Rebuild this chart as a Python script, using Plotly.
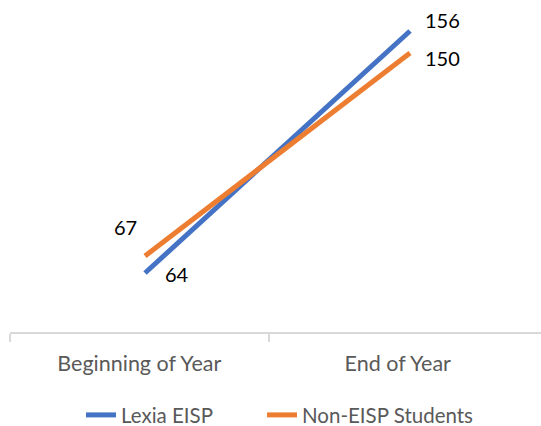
import plotly.graph_objects as go

# Reading scores at the beginning and end of the year
periods = ["Beginning of Year", "End of Year"]
lexia_eisp = [64, 156]
non_eisp = [67, 150]

BLUE = "#4472C4"
ORANGE = "#ED7D31"
GRAY_TEXT = "#595959"
AXIS_GRAY = "#D9D9D9"
FONT = "Lato, 'Liberation Sans', sans-serif"

fig = go.Figure()

fig.add_trace(go.Scatter(
    x=periods, y=lexia_eisp, name="Lexia EISP", mode="lines",
    line=dict(color=BLUE, width=5), xaxis="x", yaxis="y", legend="legend",
))
fig.add_trace(go.Scatter(
    x=periods, y=non_eisp, name="Non-EISP Students", mode="lines",
    line=dict(color=ORANGE, width=5), xaxis="x", yaxis="y2", legend="legend2",
))
# Empty trace so the category axis below the lines gets drawn
fig.add_trace(go.Scatter(
    x=[0, 1], y=[None, None], mode="lines", xaxis="x2", yaxis="y",
    showlegend=False, hoverinfo="skip",
))

# Value labels next to each end point
label_font = dict(family=FONT, size=20, color="#000000")
fig.add_annotation(x=periods[0], y=lexia_eisp[0], yref="y", text=str(lexia_eisp[0]),
                   showarrow=False, xanchor="left", yanchor="middle", xshift=18, yshift=-1,
                   font=label_font)
fig.add_annotation(x=periods[1], y=lexia_eisp[1], yref="y", text=str(lexia_eisp[1]),
                   showarrow=False, xanchor="left", yanchor="middle", xshift=13, yshift=11,
                   font=label_font)
fig.add_annotation(x=periods[0], y=non_eisp[0], yref="y2", text=str(non_eisp[0]),
                   showarrow=False, xanchor="right", yanchor="middle", xshift=-6, yshift=29,
                   font=label_font)
fig.add_annotation(x=periods[1], y=non_eisp[1], yref="y2", text=str(non_eisp[1]),
                   showarrow=False, xanchor="left", yanchor="middle", xshift=13, yshift=-5,
                   font=label_font)

legend_style = dict(orientation="h", y=-0.258, yanchor="middle", xanchor="left",
                    font=dict(family=FONT, size=20.5, color=GRAY_TEXT),
                    bgcolor="rgba(0,0,0,0)")

fig.update_layout(
    width=541, height=426,
    margin=dict(l=10, r=0, t=10, b=94, autoexpand=False),
    paper_bgcolor="white", plot_bgcolor="white",
    font=dict(family=FONT, color=GRAY_TEXT),
    xaxis=dict(type="category", range=[-0.5094, 1.4943], visible=False,
               showgrid=False, zeroline=False),
    xaxis2=dict(type="linear", overlaying="x", range=[-0.5, 1.554], showgrid=False,
                zeroline=False, tickmode="array", tickvals=[0, 1], ticktext=periods,
                ticks="", tickfont=dict(family=FONT, size=21.5, color=GRAY_TEXT),
                showline=True, linecolor=AXIS_GRAY, linewidth=1.5, side="bottom",
                minor=dict(tickmode="array", tickvals=[-0.5, 0.5], ticks="outside",
                           ticklen=8, tickcolor=AXIS_GRAY, tickwidth=1.5),
                ticklabelstandoff=11, anchor="y"),
    yaxis=dict(range=[41.57, 163.98], visible=False, showgrid=False, zeroline=False),
    yaxis2=dict(range=[35.93, 167.58], overlaying="y", visible=False,
                showgrid=False, zeroline=False),
    showlegend=True,
    legend=dict(x=0.1337, **legend_style),
    legend2=dict(x=0.4746, **legend_style),
)

fig.write_html("out.html")
